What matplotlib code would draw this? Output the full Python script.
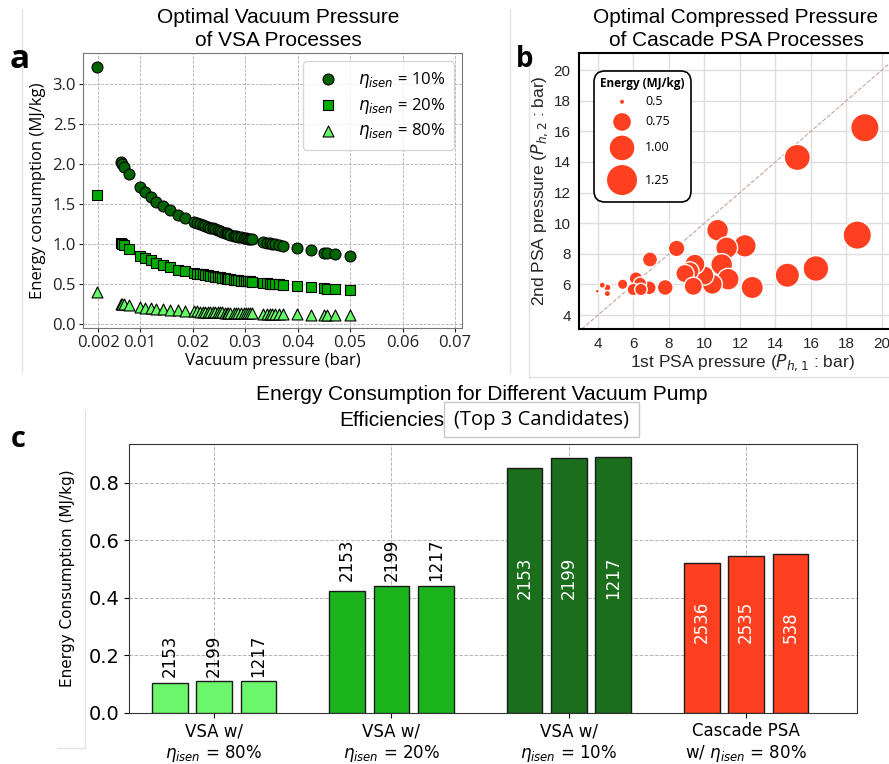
import matplotlib.pyplot as plt
from matplotlib.lines import Line2D
from matplotlib.patches import Circle, Rectangle
from matplotlib.offsetbox import AnchoredOffsetbox, VPacker, HPacker, TextArea, DrawingArea

# ---------------- panel a : optimal vacuum pressure of VSA ----------------
vac_pressure = [0.0018, 0.0063, 0.0066, 0.0070, 0.0079, 0.0100, 0.0110, 0.0120, 0.0131, 0.0143,
                0.0157, 0.0173, 0.0186, 0.0202, 0.0208, 0.0214, 0.0219, 0.0224, 0.0229, 0.0233,
                0.0238, 0.0243, 0.0248, 0.0252, 0.0256, 0.0262, 0.0265, 0.0268, 0.0272, 0.0278,
                0.0283, 0.0287, 0.0293, 0.0297, 0.0302, 0.0306, 0.0310, 0.0314, 0.0335, 0.0342,
                0.0348, 0.0352, 0.0357, 0.0364, 0.0373, 0.0398, 0.0425, 0.0451, 0.0456, 0.0471,
                0.0500]
energy_eta10 = [3.22, 2.03, 2.00, 1.97, 1.88, 1.71, 1.645, 1.59, 1.53, 1.47,
                1.425, 1.365, 1.32, 1.28, 1.265, 1.25, 1.24, 1.23, 1.215, 1.205,
                1.195, 1.185, 1.175, 1.165, 1.155, 1.14, 1.133, 1.126, 1.118, 1.107,
                1.10, 1.093, 1.085, 1.08, 1.073, 1.068, 1.063, 1.058, 1.025, 1.015,
                1.008, 1.004, 0.998, 0.99, 0.978, 0.949, 0.92, 0.89, 0.886, 0.874,
                0.853]
energy_eta20 = [1.61, 1.015, 1.0, 0.985, 0.94, 0.855, 0.82, 0.795, 0.765, 0.735,
                0.71, 0.68, 0.66, 0.64, 0.63, 0.625, 0.62, 0.615, 0.61, 0.60,
                0.598, 0.593, 0.588, 0.583, 0.578, 0.57, 0.567, 0.563, 0.559, 0.553,
                0.55, 0.547, 0.543, 0.54, 0.537, 0.534, 0.532, 0.529, 0.513, 0.508,
                0.504, 0.502, 0.499, 0.495, 0.489, 0.475, 0.46, 0.445, 0.443, 0.437,
                0.427]
energy_eta80 = [0.40, 0.254, 0.25, 0.246, 0.235, 0.214, 0.206, 0.199, 0.191, 0.184,
                0.178, 0.171, 0.165, 0.16, 0.158, 0.156, 0.155, 0.154, 0.152, 0.151,
                0.149, 0.148, 0.147, 0.146, 0.144, 0.143, 0.142, 0.141, 0.14, 0.138,
                0.138, 0.137, 0.136, 0.135, 0.134, 0.134, 0.133, 0.132, 0.128, 0.127,
                0.126, 0.126, 0.125, 0.124, 0.122, 0.119, 0.115, 0.111, 0.111, 0.109,
                0.107]
a_xticks = [0.002, 0.01, 0.02, 0.03, 0.04, 0.05, 0.06, 0.07]
a_xticklabels = ['0.002', '0.01', '0.02', '0.03', '0.04', '0.05', '0.06', '0.07']

# ---------------- panel b : cascade PSA pressures ----------------
p_h1 = [19.04, 15.23, 18.61, 16.28, 14.67, 12.69, 12.28, 10.74, 11.25, 10.97,
        11.34, 10.44, 9.99, 9.46, 9.18, 8.90, 9.37, 8.43, 7.79, 6.93,
        6.89, 6.14, 6.37, 5.99, 6.42, 5.39, 4.53, 4.24, 4.53, 3.96]
p_h2 = [16.23, 14.29, 9.22, 7.04, 6.60, 5.80, 8.52, 9.54, 8.39, 7.30,
        6.34, 6.01, 6.58, 7.32, 6.88, 6.71, 5.88, 8.35, 5.80, 7.63,
        5.78, 6.39, 6.06, 5.67, 5.67, 6.01, 5.80, 5.95, 5.40, 5.56]
psa_energy = [1.17, 1.07, 1.17, 1.05, 0.99, 0.91, 0.92, 0.89, 0.89, 0.89,
              0.89, 0.83, 0.80, 0.83, 0.77, 0.77, 0.77, 0.72, 0.70, 0.68,
              0.65, 0.64, 0.63, 0.62, 0.62, 0.58, 0.53, 0.52, 0.52, 0.50]
legend_energy = [0.5, 0.75, 1.00, 1.25]
legend_labels = ['0.5', '0.75', '1.00', '1.25']

# ---------------- panel c : top 3 candidates ----------------
group_labels = ['VSA w/\n$\\eta_{isen}$ = 80%', 'VSA w/\n$\\eta_{isen}$ = 20%',
                'VSA w/\n$\\eta_{isen}$ = 10%', 'Cascade PSA\nw/ $\\eta_{isen}$ = 80%']
bar_values = [[0.105, 0.111, 0.111],
              [0.423, 0.443, 0.443],
              [0.852, 0.887, 0.890],
              [0.522, 0.545, 0.551]]
bar_ids = [['2153', '2199', '1217'],
           ['2153', '2199', '1217'],
           ['2153', '2199', '1217'],
           ['2536', '2535', '538']]
bar_colors = ['#6bf66b', '#1cb41c', '#1b6e1b', '#ff4020']
label_inside = [False, False, True, True]

RED = '#ff4020'
S_MIN, S_MAX = 8, 466


def bubble_size(e):
    return S_MIN + (e - 0.5) / (1.25 - 0.5) * (S_MAX - S_MIN)


W, H = 889, 764
fig = plt.figure(figsize=(W / 100, H / 100), dpi=100)


def fx(px):
    return px / W


def fy(py):
    return 1 - py / H


# faint frames of the pasted sub-figures
frame_kw = dict(color='#e3e3e3', lw=1, transform=fig.transFigure)
for xs, ys in [([22, 22], [9, 372]), ([510, 510], [9, 373]), ([529, 529], [50, 378]),
               ([529, 889], [377, 377]), ([85, 85], [410, 748]), ([57, 85], [748, 748])]:
    fig.add_artist(Line2D([fx(v) for v in xs], [fy(v) for v in ys], **frame_kw))

# ================= panel a =================
ax1 = fig.add_axes([fx(83), fy(328), fx(462 - 83), (328 - 53) / H])
ax1.scatter(vac_pressure, energy_eta10, s=62, marker='o', c='#006400', edgecolors='black',
            linewidths=0.8, zorder=3, label='$\\eta_{isen}$ = 10%')
ax1.scatter(vac_pressure, energy_eta20, s=62, marker='s', c='#00ac00', edgecolors='black',
            linewidths=0.8, zorder=3, label='$\\eta_{isen}$ = 20%')
ax1.scatter(vac_pressure, energy_eta80, s=62, marker='^', c='#66f866', edgecolors='black',
            linewidths=0.8, zorder=3, label='$\\eta_{isen}$ = 80%')
ax1.set_xlim(-0.00086, 0.0713)
ax1.set_ylim(-0.05, 3.39)
ax1.set_xticks(a_xticks)
ax1.set_xticklabels(a_xticklabels, family='Open Sans', fontsize=12)
ax1.set_yticks([0.0, 0.5, 1.0, 1.5, 2.0, 2.5, 3.0])
ax1.set_yticklabels(['0.0', '0.5', '1.0', '1.5', '2.0', '2.5', '3.0'], family='Open Sans', fontsize=12)
ax1.tick_params(length=3, pad=2, colors='#222222')
ax1.grid(True, ls='--', lw=0.6, color='#b0b0b0')
ax1.set_axisbelow(True)
for sp in ax1.spines.values():
    sp.set_color('#777777')
ax1.set_xlabel('Vacuum pressure (bar)', family='Open Sans', fontsize=12)
ax1.set_ylabel('Energy consumption (MJ/kg)', family='Open Sans', fontsize=12)
ax1.xaxis.set_label_coords(0.5, -0.092)
ax1.yaxis.set_label_coords(-0.097, 0.5)
ax1.legend(loc='upper right', prop={'family': 'Open Sans', 'size': 12}, scatterpoints=1,
           labelspacing=0.35, handletextpad=0.8, borderpad=0.5)
fig.text(fx(278), fy(29), 'Optimal Vacuum Pressure\nof VSA Processes', ha='center', va='center',
         family='Liberation Sans', fontsize=15, linespacing=1.25)
fig.text(fx(10), fy(68), 'a', family='Open Sans', fontweight='bold', fontsize=24, va='baseline')

# ================= panel b =================
ax2 = fig.add_axes([fx(579), fy(329), fx(905 - 579), (329 - 53) / H])
ax2.scatter(p_h1, p_h2, s=[bubble_size(e) for e in psa_energy], c=RED, edgecolors='white',
            linewidths=1.0, zorder=3)
ax2.axline((0, 0), slope=1, color='#c9a49b', ls='--', lw=0.8, zorder=2)
ax2.set_xlim(2.93, 21.3)
ax2.set_ylim(3.09, 21.11)
ax2.set_xticks(range(4, 22, 2))
ax2.set_yticks(range(4, 22, 2))
ax2.tick_params(length=0, pad=6, labelsize=11, labelcolor='#262626')
for lab in ax2.get_xticklabels() + ax2.get_yticklabels():
    lab.set_family('Liberation Sans')
ax2.grid(True, color='#dedede', lw=1)
ax2.set_axisbelow(True)
for sp in ax2.spines.values():
    sp.set_color('black')
    sp.set_linewidth(1.5)
ax2.set_xlabel('1st PSA pressure ($P_{h,1}$ : bar)', family='Liberation Sans', fontsize=12.5,
               color='#262626')
ax2.set_ylabel('2nd PSA pressure ($P_{h,2}$ : bar)', family='Liberation Sans', fontsize=12.5,
               color='#262626')
ax2.xaxis.set_label_coords(0.5, -0.083)
ax2.yaxis.set_label_coords(-0.09, 0.5)

# size legend
rows = [TextArea('Energy (MJ/kg)', textprops=dict(family='Open Sans', fontweight='bold', size=8.5))]
for e, lab in zip(legend_energy, legend_labels):
    d = bubble_size(e) ** 0.5
    da = DrawingArea(31, max(d, 9), 0, 0)
    da.add_artist(Circle((15.5, max(d, 9) / 2), d / 2, fc=RED, ec='none'))
    ta = TextArea(lab, textprops=dict(family='Open Sans', size=9))
    rows.append(HPacker(children=[da, ta], align='center', pad=0, sep=1))
box = VPacker(children=rows, align='left', pad=0, sep=3.5)
anch = AnchoredOffsetbox(loc='upper left', child=box, pad=0.55, borderpad=0, frameon=True,
                         bbox_to_anchor=(0.046, 0.935), bbox_transform=ax2.transAxes,
                         prop=dict(size=8.5))
anch.patch.set_boxstyle('round,pad=0,rounding_size=0.9')
anch.patch.set_edgecolor('black')
anch.patch.set_linewidth(1.2)
anch.set_zorder(5)
ax2.add_artist(anch)

fig.text(fx(736), fy(29), 'Optimal Compressed Pressure\nof Cascade PSA Processes', ha='center',
         va='center', family='Liberation Sans', fontsize=15, linespacing=1.25)
fig.text(fx(516), fy(67), 'b', family='Open Sans', fontweight='bold', fontsize=20, va='baseline')

# ================= panel c =================
ax3 = fig.add_axes([fx(129), fy(713), fx(857 - 129), (713 - 444) / H])
offsets = [-0.25, 0.0, 0.25]
for g, (vals, ids, col, inside) in enumerate(zip(bar_values, bar_ids, bar_colors, label_inside)):
    xs = [g + o for o in offsets]
    ax3.bar(xs, vals, width=0.2, color=col, edgecolor='#1a1a1a', linewidth=1, zorder=3)
    for x, v, t in zip(xs, vals, ids):
        if inside:
            ax3.text(x, vals[0] * 0.465, t, rotation=90, ha='center', va='bottom',
                     color='white', fontsize=12, zorder=4)
        else:
            ax3.text(x, max(vals) + 0.015, t, rotation=90, ha='center', va='bottom',
                     color='black', fontsize=12, zorder=4)
ax3.set_xlim(-0.48, 3.625)
ax3.set_ylim(0, 0.935)
ax3.set_xticks(range(len(group_labels)))
ax3.set_xticklabels(group_labels, fontsize=12)
ax3.set_yticks([0.0, 0.2, 0.4, 0.6, 0.8])
ax3.set_yticklabels(['0.0', '0.2', '0.4', '0.6', '0.8'], fontsize=14)
ax3.tick_params(length=3.5, pad=3)
ax3.grid(True, ls='--', lw=0.7, color='#b5b5b5')
ax3.set_axisbelow(True)
for sp in ax3.spines.values():
    sp.set_color('#333333')
ax3.set_ylabel('Energy Consumption (MJ/kg)', fontsize=11)
ax3.yaxis.set_label_coords(-0.074, 0.5)

fig.text(fx(482), fy(395), 'Energy Consumption for Different Vacuum Pump', ha='center', va='center',
         family='Liberation Sans', fontsize=15)
fig.text(fx(339), fy(421), 'Efficiencies', ha='left', va='center', family='Liberation Sans',
         fontsize=15)
fig.add_artist(Rectangle((fx(444), fy(437)), fx(639 - 444), (437 - 402) / H, transform=fig.transFigure,
                         fc='white', ec='#c8c8c8', lw=1, zorder=4))
fig.text(fx(541), fy(420), '(Top 3 Candidates)', ha='center', va='center', family='Open Sans',
         fontsize=14.5, zorder=5)
fig.text(fx(11), fy(447), 'c', family='Open Sans', fontweight='bold', fontsize=21, va='baseline')

fig.savefig('out.png', dpi=100)
